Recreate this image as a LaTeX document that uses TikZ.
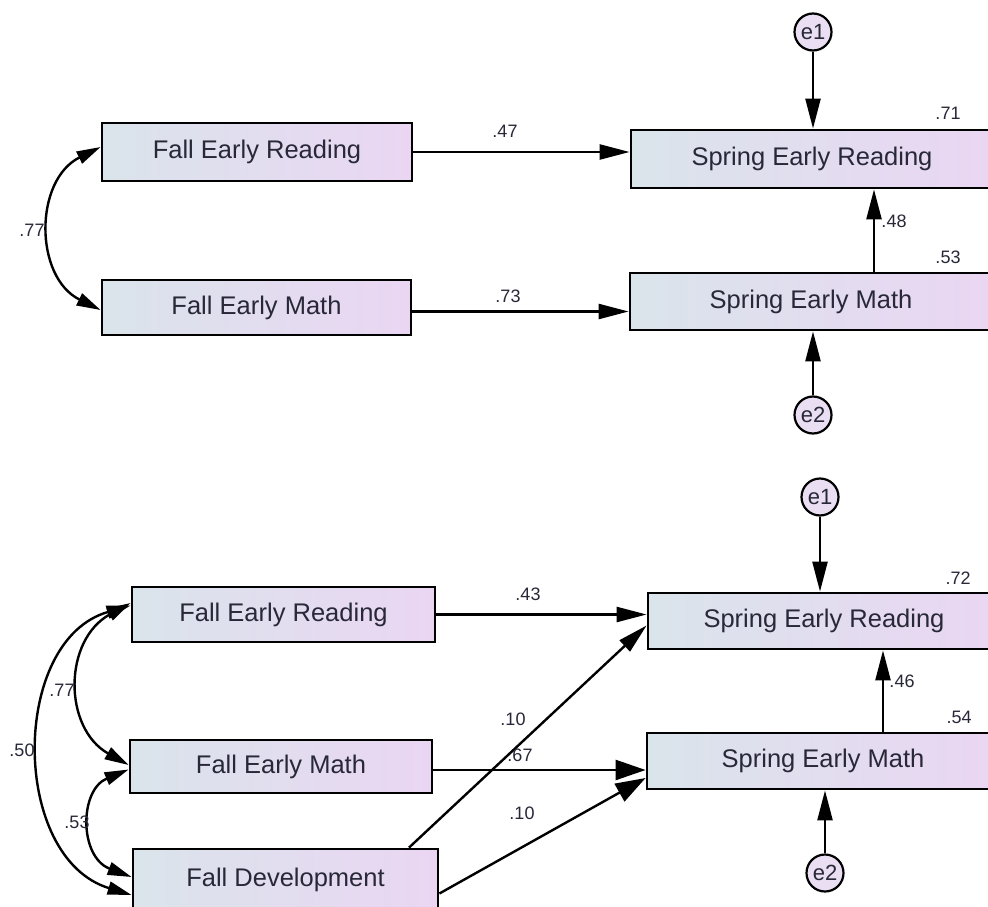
\documentclass[tikz,border=0pt]{standalone}
\usepackage{fontspec}
\setmainfont{Liberation Sans}
\usetikzlibrary{arrows.meta}
\definecolor{boxL}{RGB}{218,228,235}
\definecolor{boxR}{RGB}{234,214,243}
\definecolor{circ}{RGB}{234,222,243}
\definecolor{txt}{RGB}{40,40,56}
\begin{document}
\begin{tikzpicture}[x=1pt,y=-1pt,
 var/.style={draw=black, line width=2.8pt, left color=boxL, right color=boxR, inner sep=0pt, text=txt, font=\fontsize{25.5}{30}\selectfont},
 err/.style={circle, draw=black, line width=2.2pt, fill=circ, minimum size=37pt, inner sep=0pt, text=txt, font=\fontsize{22}{26}\selectfont},
 coef/.style={text=txt, font=\fontsize{18}{21}\selectfont, inner sep=0pt},
 arr/.style={line width=2.4pt, -{Triangle[length=30pt,width=15pt]}},
 arrbig/.style={line width=2.4pt, -{Triangle[length=30pt,width=20pt]}},
 dbl/.style={line width=2.4pt, {Triangle[length=24pt,width=13pt]}-{Triangle[length=24pt,width=13pt]}},
]
\useasboundingbox (0,0) rectangle (988,907);
\clip (0,0) rectangle (988,907);
\fill[white] (0,0) rectangle (988,907);

% ---------- top model ----------
\node[var, minimum width=310pt, minimum height=58pt] (FER1) at (257,152) {Fall Early Reading};
\node[var, minimum width=309pt, minimum height=55pt] (FEM1) at (256.5,307.5) {Fall Early Math};
\node[var, minimum width=362pt, minimum height=58pt] (SER1) at (812,159) {Spring Early Reading};
\node[var, minimum width=362pt, minimum height=57pt] (SEM1) at (811,301.5) {Spring Early Math};
\node[err] (e1a) at (813,32) {e1};
\node[err] (e2a) at (813,415) {e2};
\coordinate (m48) at (874,0);

\draw[arr] (FER1.east) -- (FER1.east -| SER1.west);
\draw[arr] ([yshift=-4pt]FEM1.east) -- ([yshift=-4pt]FEM1.east -| SEM1.west);
\draw[arr] (e1a.south) -- (e1a.south |- SER1.north);
\draw[arr] (e2a.north) -- (e2a.north |- SEM1.south);
\draw[arr] (m48 |- SEM1.north) -- (m48 |- SER1.south);
\draw[dbl] ([yshift=5pt]FER1.west) .. controls (34,180) and (34,277) .. ([yshift=-2.5pt]FEM1.west);

\node[coef] (l47) at (505,131) {.47};
\node[coef] (l73) at (508,296) {.73};
\node[coef] (l71) at (948,113) {.71};
\node[coef] (l48) at (894,221) {.48};
\node[coef] (l53a) at (948,257) {.53};
\node[coef] (l77a) at (32,230) {.77};

% ---------- bottom model ----------
\node[var, minimum width=303pt, minimum height=55pt] (FER2) at (283.5,614.5) {Fall Early Reading};
\node[var, minimum width=302pt, minimum height=53pt] (FEM2) at (281,766.5) {Fall Early Math};
\node[var, minimum width=305pt, minimum height=61pt] (FD) at (285.5,879.5) {Fall Development};
\node[var, minimum width=352pt, minimum height=56pt] (SER2) at (824,621) {Spring Early Reading};
\node[var, minimum width=352pt, minimum height=56pt] (SEM2) at (823,761) {Spring Early Math};
\node[err] (e1b) at (820,497) {e1};
\node[err] (e2b) at (825,873) {e2};
\coordinate (m46) at (883,0);

\draw[arr] (FER2.east) -- (FER2.east -| SER2.west);
\draw[arrbig] ([yshift=-3.5pt]FEM2.east) -- ([yshift=-3.5pt]FEM2.east -| SEM2.west);
\draw[arr] ([xshift=123.5pt]FD.north) -- ([yshift=-4.5pt]SER2.west);
\draw[arrbig] ([yshift=-14pt]FD.east) -- ([yshift=-17pt]SEM2.west);
\draw[arr] (e1b.south) -- (e1b.south |- SER2.north);
\draw[arr] (e2b.north) -- (e2b.north |- SEM2.south);
\draw[arr] (m46 |- SEM2.north) -- (m46 |- SER2.south);
\draw[dbl] ([yshift=11.5pt]FER2.west) .. controls (63,640) and (63,728) .. ([yshift=1.5pt]FEM2.west);
\draw[dbl] ([yshift=9pt]FER2.west) .. controls (10,640) and (10,858) .. ([yshift=-15.5pt]FD.west);
\draw[dbl] ([yshift=-3pt]FEM2.west) .. controls (79,790) and (79,857) .. ([yshift=2.5pt]FD.west);

\node[coef] (l43) at (528,594) {.43};
\node[coef] (l10a) at (513,719) {.10};
\node[coef] (l67) at (520,755) {.67};
\node[coef] (l10b) at (522,813) {.10};
\node[coef] (l72) at (958,578) {.72};
\node[coef] (l46) at (902,681) {.46};
\node[coef] (l54) at (959,717) {.54};
\node[coef] (l77b) at (62,690) {.77};
\node[coef] (l50) at (22,750) {.50};
\node[coef] (l53b) at (77,822) {.53};
\end{tikzpicture}
\end{document}
